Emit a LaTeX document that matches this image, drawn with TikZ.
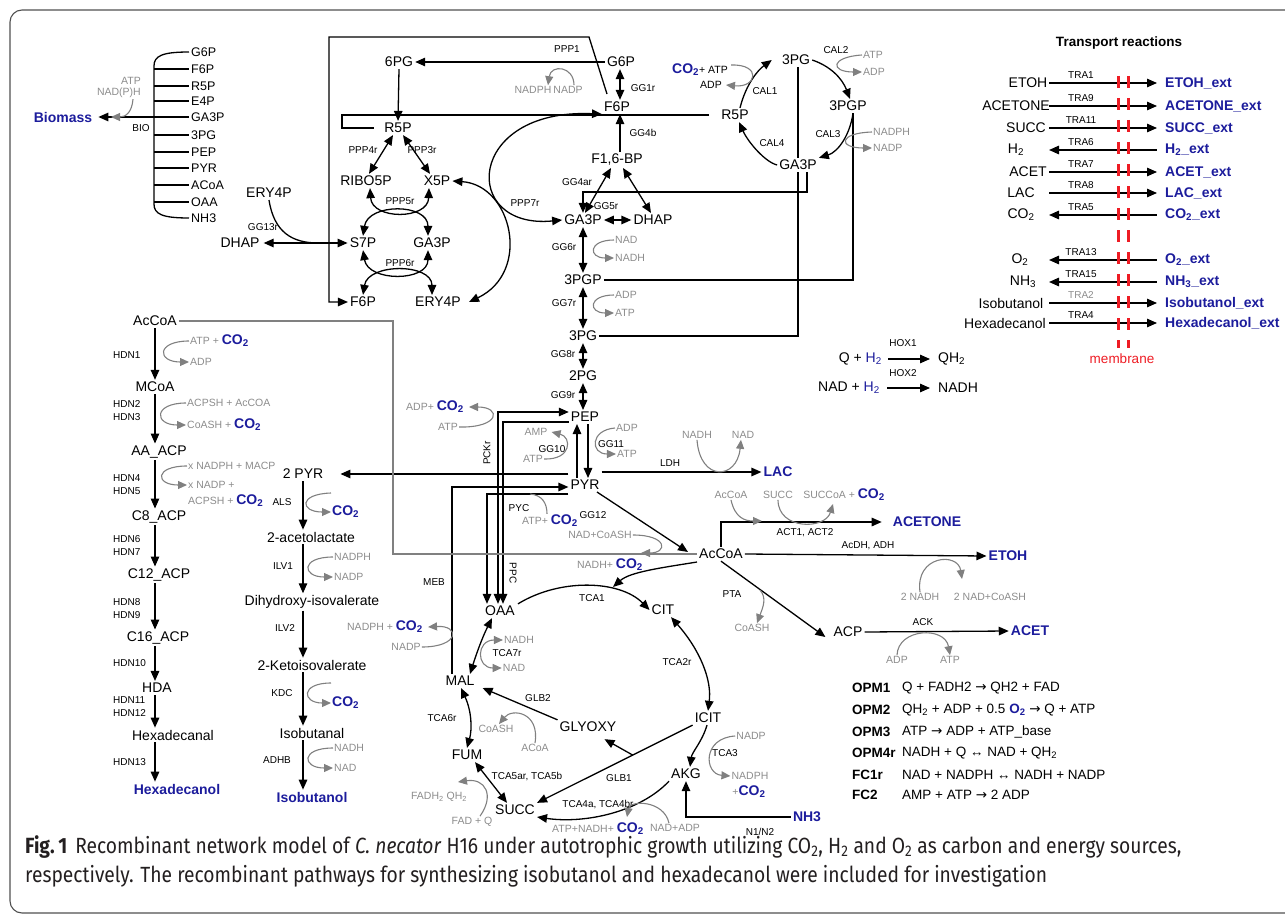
\documentclass[tikz,border=0pt]{standalone}
\usepackage{fontspec}
\setmainfont{Liberation Sans}
\newfontfamily\capfont[FakeStretch=0.875]{Fira Sans}
\newfontfamily\arrfont{DejaVu Sans}
\usetikzlibrary{arrows.meta,positioning,calc}
\definecolor{pblue}{RGB}{28,28,156}
\definecolor{cgray}{RGB}{140,140,140}
\definecolor{agray}{RGB}{128,128,128}
\definecolor{mred}{RGB}{238,28,36}
\definecolor{framegray}{RGB}{80,80,80}
\definecolor{captext}{RGB}{35,31,32}
\newcommand\cotwo{\textcolor{pblue}{\fontsize{14}{16}\selectfont\bfseries CO\textsubscript{2}}}
\newcommand\htwo{\textcolor{pblue}{H\textsubscript{2}}}
\newcommand\rarr{{\arrfont →}}

\begin{document}
\begin{tikzpicture}[x=1pt, y=-1pt,
    met/.style={font=\fontsize{14}{16}\selectfont, inner sep=2pt},
    bmet/.style={font=\fontsize{12.5}{14}\selectfont, inner sep=2pt},
    prod/.style={font=\fontsize{14}{16}\selectfont\bfseries, text=pblue, inner sep=2pt},
    rxn/.style={font=\fontsize{10}{12}\selectfont, inner sep=1pt},
    cof/.style={font=\fontsize{10.5}{12}\selectfont, text=cgray, inner sep=1pt},
    flux/.style={line width=1.3pt, -{Triangle[length=10pt, width=8.5pt]}},
    rflux/.style={line width=1.3pt, {Triangle[length=10pt, width=8.5pt]}-{Triangle[length=10pt, width=8.5pt]}},
    tout/.style={flux},
    tin/.style={line width=1.3pt, {Triangle[length=10pt, width=8.5pt]}-},
    link/.style={line width=1.3pt},
    cofarr/.style={agray, line width=1.1pt, -{Triangle[length=9pt, width=8pt]}},
    cofrev/.style={agray, line width=1.1pt, {Triangle[length=9pt, width=8pt]}-{Triangle[length=9pt, width=8pt]}},
    cofline/.style={agray, line width=1.1pt}
]
\useasboundingbox (0,0) rectangle (1285,915);
\draw[framegray, line width=1.1pt, rounded corners=12pt] (10,10) rectangle (1310,913);

% biomass drain
\foreach \n/\lbl/\y in {g6p/G6P/52, f6p/F6P/69, r5p/R5P/86, e4p/E4P/101, ga3p/GA3P/117,
                        pg/3PG/135, pep/PEP/152, pyr/PYR/168, acoa/ACoA/185, oaa/OAA/202, nh/NH3/218}
  \node[bmet, anchor=west] (b\n) at (189,\y) {\lbl};
\draw[link] (bg6p.west) .. controls (162,52) and (154,56) .. (154,66) -- (154,204)
  .. controls (154,214) and (162,218) .. (bnh.west);
\foreach \n in {f6p,r5p,e4p,pg,pep,pyr,acoa,oaa}
  \draw[link] (b\n.west -| 154,0) -- (b\n.west);
\node[prod] (bio) at (63,117) {Biomass};
\draw[flux] (bga3p.west) -- ([xshift=4pt]bio.east);
\node[cof, anchor=east] (bioa) at (142,81) {ATP};
\node[cof, anchor=east] (biob) at (142,93) {NAD(P)H};
\draw[cofarr] ([xshift=-9pt]biob.south east) .. controls (132,112) and (126,117) .. (111,117);
\node[rxn] (biol) at (141,128) {BIO};

% ERY4P / DHAP and the big loop
\node[met] (ery4pa) at (269,193) {ERY4P};
\node[met] (dhapa) at (240,243) {DHAP};
\node[rxn] (gg13) at (263,227) {GG13r};
\node[met] (s7p) at (363,243) {S7P};
\coordinate (eryjoin) at (318,243);
\draw[rflux] ([xshift=2pt]dhapa.east) -- (s7p.west);
\draw[link] (ery4pa.south) .. controls (274,232) and (292,243) .. (eryjoin);
\node[met] (f6pl) at (363,302) {F6P};
\node[met] (f6pt) at (617,107) {F6P};
\coordinate (boxend) at (607,94);
\draw[flux] (boxend) -- (589,37) -- (329,37) -- (329,0 |- f6pl.west) -- (f6pl.west);

% pentose phosphate
\node[met] (pg6) at (399,62) {6PG};
\node[met] (g6p) at (621,62) {G6P};
\node[rxn] (ppp1) at (567,49) {PPP1};
\draw[flux] (g6p.west) -- (pg6.east);
\node[cof] (ppp1a) at (533,90) {NADPH};
\node[cof] (ppp1b) at (568,90) {NADP};
\draw[cofarr] ([xshift=6pt]ppp1b.north) .. controls (574,66) and (551,64) .. ([xshift=15pt]ppp1a.north);
\node[met] (r5pl) at (398,128) {R5P};
\draw[flux] (pg6.south) -- (r5pl.north);
\node[rxn] (ppp4) at (363,150) {PPP4r};
\node[rxn] (ppp3) at (422,150) {PPP3r};
\node[met] (ribo) at (366,181) {RIBO5P};
\node[met] (x5p) at (437,181) {X5P};
\draw[rflux] ([xshift=-5pt]r5pl.south) -- ([xshift=3pt]ribo.north);
\draw[rflux] ([xshift=5pt]r5pl.south) -- ([xshift=-7pt]x5p.north);
\node[rxn] (ppp5) at (400,201) {PPP5r};
\node[met] (ga3pl) at (432,243) {GA3P};
\draw[rflux] ([xshift=4pt]ribo.south) .. controls (372,220) and (428,220) .. ([xshift=-8pt]x5p.south);
\draw[rflux] (s7p.north) .. controls (368,203) and (428,203) .. ([xshift=-4pt]ga3pl.north);
\node[rxn] (ppp6) at (400,263) {PPP6r};
\node[met] (ery4pl) at (438,302) {ERY4P};
\draw[rflux] (s7p.south) .. controls (368,282) and (428,282) .. ([xshift=-4pt]ga3pl.south);
\draw[rflux] (f6pl.north) .. controls (368,263) and (432,263) .. ([xshift=-6pt]ery4pl.north);
\node[rxn] (ppp7) at (525,203) {PPP7r};
\draw[rflux] (x5p.east) .. controls (512,185) and (532,272) .. ([xshift=6pt]ery4pl.east);
\node[met] (ga3pc) at (583,220) {GA3P};
\draw[rflux] (f6pt.south west) .. controls (465,108) and (460,230) .. (ga3pc.west);

% glycolysis
\node[rxn] (gg1) at (643,88) {GG1r};
\draw[rflux] ([xshift=-1pt]g6p.south) -- ([xshift=3pt]f6pt.north);
\node[met] (fbp) at (617,160) {F1,6-BP};
\node[rxn] (gg4b) at (643,133) {GG4b};
\draw[flux] ([xshift=3pt]fbp.north) -- ([xshift=3pt]f6pt.south);
\node[rxn] (gg4a) at (577,182) {GG4ar};
\node[rxn] (gg5) at (606,206) {GG5r};
\node[met] (dhapc) at (653,220) {DHAP};
\draw[rflux] ([xshift=-6pt]fbp.south) -- ([xshift=2pt]ga3pc.north);
\draw[rflux] ([xshift=6pt]fbp.south) -- ([xshift=-2pt]dhapc.north);
\draw[rflux] (ga3pc.east) -- (dhapc.west);
\node[rxn] (gg6) at (564,247) {GG6r};
\node[cof, anchor=west] (g6a) at (614,240) {NAD};
\node[cof, anchor=west] (g6b) at (614,258) {NADH};
\draw[cofarr] (g6a.west) .. controls (588,240) and (588,258) .. (g6b.west);
\node[met] (pgp3) at (583,280) {3PGP};
\draw[rflux] (ga3pc.south) -- (pgp3.north);
\node[rxn] (gg7) at (564,303) {GG7r};
\node[cof, anchor=west] (g7a) at (614,295) {ADP};
\node[cof, anchor=west] (g7b) at (614,313) {ATP};
\draw[cofarr] (g7a.west) .. controls (588,295) and (588,313) .. (g7b.west);
\node[met] (pg3) at (583,336) {3PG};
\draw[rflux] (pgp3.south) -- (pg3.north);
\node[rxn] (gg8) at (563,354) {GG8r};
\node[met] (pg2) at (583,376) {2PG};
\draw[rflux] (pg3.south) -- (pg2.north);
\node[rxn] (gg9) at (563,395) {GG9r};
\node[met] (pep) at (585,417) {PEP};
\draw[rflux] (pg2.south) -- (pg2.south |- pep.north);
\node[met] (pyr) at (585,485) {PYR};
\node[rxn] (gg10) at (552,449) {GG10};
\node[rxn] (gg11) at (611,444) {GG11};
\draw[flux] ([xshift=-8pt]pyr.north) -- ([xshift=-8pt]pep.south);
\draw[flux] ([xshift=3pt]pep.south) -- ([xshift=3pt]pyr.north);
\node[cof] (g10a) at (536,432) {AMP};
\node[cof] (g10b) at (533,459) {ATP};
\draw[cofarr] (g10b.east) .. controls (572,460) and (572,437) .. ([xshift=3pt]g10a.east);
\node[cof] (g11a) at (627,428) {ADP};
\node[cof] (g11b) at (627,454) {ATP};
\draw[cofarr] (g11a.west) .. controls (590,430) and (590,454) .. (g11b.west);

% Calvin cycle
\node[met] (pg3k) at (796,60) {3PG};
\node[met] (pgpk) at (848,106) {3PGP};
\node[met] (ga3pk) at (798,165) {GA3P};
\node[met] (r5pc) at (735,115) {R5P};
\draw[link] (pg3.east) -| (ga3pk.south);
\draw[link] (ga3pk.north) -- (ga3pk.north |- pg3k.south);
\draw[link] (pgp3.east) -| ([xshift=5pt]pgpk.south);
\draw[flux] ([xshift=9pt]ga3pk.south) |- (ga3pc.north |- 0,192) -- (ga3pc.north);
\draw[link] ([xshift=-10pt]r5pc.west) -- (342,0 |- r5pc.west) -- (342,0 |- r5pl.west) -- ([xshift=-8pt]r5pl.west);
\draw[flux] ([xshift=5pt]r5pc.north) .. controls (746,84) and (758,70) .. ([xshift=-8pt]pg3k.west);
\node[rxn] (cal1) at (765,91) {CAL1};
\node[inner sep=1pt, font=\fontsize{10.5}{12}\selectfont] (cal1a) at (700,70) {\cotwo+ ATP};
\node[inner sep=1pt, font=\fontsize{10.5}{12}\selectfont] (cal1b) at (711,85) {ADP};
\draw[cofarr] (731,65) .. controls (762,64) and (757,88) .. ([xshift=3pt]cal1b.east);
\draw[flux] (pg3k.east) .. controls (830,66) and (842,78) .. ([xshift=2pt]pgpk.north);
\node[rxn] (cal2) at (836,50) {CAL2};
\node[cof, anchor=west] (cal2a) at (862,55) {ATP};
\node[cof, anchor=west] (cal2b) at (862,72) {ADP};
\draw[cofarr] (cal2a.west) .. controls (830,57) and (830,72) .. (cal2b.west);
\draw[flux] ([xshift=5pt]pgpk.south) .. controls (850,135) and (838,152) .. (ga3pk.north east);
\node[rxn] (cal3) at (828,134) {CAL3};
\node[cof, anchor=west] (cal3a) at (872,132) {NADPH};
\node[cof, anchor=west] (cal3b) at (872,148) {NADP};
\draw[cofarr] (cal3a.west) .. controls (838,133) and (838,148) .. (cal3b.west);
\draw[flux] (ga3pk.west) .. controls (765,162) and (748,142) .. ([xshift=4pt]r5pc.south);
\node[rxn] (cal4) at (772,143) {CAL4};

% pyruvate node and branches
\node[met] (pyr2) at (303,474) {2 PYR};
\draw[flux] (pyr.west |- pyr2.east) -- ([xshift=15pt]pyr2.east);
\node[prod] (lac) at (778,472) {LAC};
\draw[flux] (pyr.east |- lac.west) -- (lac.west);
\node[rxn] (ldh) at (670,463) {LDH};
\node[cof] (ldha) at (697,435) {NADH};
\node[cof] (ldhb) at (743,435) {NAD};
\draw[cofarr] (ldha.south) .. controls (700,482) and (737,480) .. ([xshift=-2pt]ldhb.south);

\node[met] (oaa) at (500,611) {OAA};
\draw[rflux] ([yshift=5pt]pep.west) -| ([xshift=-2pt]oaa.north);
\draw[flux] ([yshift=-5pt]pep.west) -| ([xshift=3pt]oaa.north);
\draw[flux] ([yshift=-9pt]pyr.west) -| ([xshift=-13pt]oaa.north);
\node[met] (mal) at (460,681) {MAL};
\draw[flux] ([xshift=-8pt]mal.north) |- ([yshift=-2pt]pyr.west);
\node[rxn, rotate=90] (pckr) at (487,453) {PCKr};
\node[rxn, rotate=-90] (ppc) at (513,573) {PPC};
\node[rxn] (pyc) at (519,508) {PYC};
\node[rxn] (meb) at (434,582) {MEB};
\node[cof] (pyca) at (550,521) {ATP+ \cotwo};
\coordinate (pycj) at (530,494);
\draw[cofline] (pycj) .. controls (542,495) and (547,503) .. ([xshift=-3pt]pyca.north);
\node[cof] (pcka) at (435,407) {ADP+ \cotwo};
\node[cof] (pckb) at (448,427) {ATP};
\draw[cofarr] (pckb.east) .. controls (500,428) and (502,407) .. ([xshift=4pt]pcka.east);
\node[cof] (meba) at (385,627) {NADPH + \cotwo};
\node[cof] (mebb) at (406,647) {NADP};
\draw[cofarr] (mebb.east) .. controls (460,647) and (460,625) .. ([xshift=4pt]meba.east);

\node[met] (acoar) at (721,554) {AcCoA};
\draw[flux] ([xshift=12pt]pyr.south) -- ([xshift=-9pt,yshift=2pt]acoar.west);
\node[rxn] (gg12) at (593,515) {GG12};
\node[cof] (g12a) at (600,535) {NAD+CoASH};
\node[cof] (g12b) at (610,565) {NADH+ \cotwo};
\draw[cofarr] (g12a.east) .. controls (668,535) and (668,553) .. (641,553);
\node[met] (acoal) at (155,321) {AcCoA};
\draw[cofline] (acoal.east) -| (393,0 |- acoar.west) -- (acoar.west);

% acetone, ethanol, acetate
\node[prod] (acetone) at (927,522) {ACETONE};
\draw[flux] (acoar.north) |- ([xshift=-9pt]acetone.west);
\node[rxn] (act) at (805,533) {ACT1, ACT2};
\node[cof] (acta) at (731,495) {AcCoA};
\node[cof] (actb) at (778,495) {SUCC};
\node[cof] (actc) at (844,495) {SUCCoA + \cotwo};
\draw[cofarr] (acta.south) .. controls (735,518) and (745,521) .. (762,521);
\draw[cofarr] (actb.south) .. controls (778,530) and (825,530) .. (833,504);
\node[prod] (etoh) at (1008,556) {ETOH};
\draw[flux] (acoar.east) -- (etoh.west);
\node[rxn] (adh) at (868,546) {AcDH, ADH};
\node[cof] (etoha) at (920,597) {2 NADH};
\node[cof] (etohb) at (990,597) {2 NAD+CoASH};
\draw[cofarr] (etoha.north) .. controls (915,555) and (958,552) .. (962,579);
\node[met] (acp) at (848,632) {ACP};
\draw[flux] (acoar.south) -- ([xshift=-6pt,yshift=-5pt]acp.west);
\node[rxn] (pta) at (732,594) {PTA};
\node[cof] (ptaa) at (752,628) {CoASH};
\draw[cofarr] (760,590) .. controls (767,598) and (763,607) .. ([xshift=5pt]ptaa.north);
\node[prod] (acet) at (1030,631) {ACET};
\draw[flux] (acp.east) -- (acet.west);
\node[rxn] (ack) at (923,622) {ACK};
\node[cof] (acka) at (897,660) {ADP};
\node[cof] (ackb) at (950,660) {ATP};
\draw[cofarr] (acka.north) .. controls (898,628) and (945,626) .. (ackb.north);

% TCA cycle and glyoxylate shunt
\coordinate (tcaj) at (613,587);
\draw[flux] ([yshift=-8pt]acoar.west) .. controls (660,568) and (630,572) .. (tcaj);
\node[met] (cit) at (663,610) {CIT};
\draw[flux] ([xshift=18pt]oaa.north) .. controls (560,578) and (620,580) .. (cit.west);
\node[rxn] (tca1) at (592,598) {TCA1};
\node[met] (icit) at (708,718) {ICIT};
\draw[rflux] ([xshift=8pt]cit.south) .. controls (700,650) and (712,680) .. (icit.north);
\node[rxn] (tca2) at (677,662) {TCA2r};
\node[met] (akg) at (686,774) {AKG};
\draw[flux] ([xshift=-1pt]icit.south) .. controls (702,742) and (692,752) .. ([xshift=4pt]akg.north);
\node[rxn] (tca3) at (725,753) {TCA3};
\node[cof] (t3a) at (751,736) {NADP};
\node[cof] (t3b) at (750,776) {NADPH};
\node[cof] (t3c) at (749,792) {+\cotwo};
\draw[cofarr] (t3a.west) .. controls (702,738) and (704,774) .. (t3b.west);
\node[met] (succ) at (515,810) {SUCC};
\node[met] (glyoxy) at (588,727) {GLYOXY};
\draw[flux] (icit.south west) -- (succ.north east);
\draw[flux] ($(icit.south west)!0.385!(succ.north east)$) -- ([xshift=-14pt,yshift=-5pt]glyoxy.south east);
\node[rxn] (glb1) at (619,778) {GLB1};
\node[met] (fum) at (467,755) {FUM};
\draw[flux] (glyoxy.north west) -- ([xshift=6pt,yshift=-7pt]mal.east);
\node[rxn] (glb2) at (538,698) {GLB2};
\node[cof] (gl2a) at (535,748) {ACoA};
\node[cof] (gl2b) at (496,729) {CoASH};
\draw[cofarr] (gl2a.north) .. controls (540,712) and (512,708) .. ([xshift=3pt]gl2b.north);
\draw[rflux] ([xshift=10pt]mal.north) .. controls (476,655) and (482,638) .. ([xshift=-8pt]oaa.south);
\node[rxn] (tca7) at (507,653) {TCA7r};
\node[cof] (t7a) at (519,640) {NADH};
\node[cof] (t7b) at (514,668) {NAD};
\draw[cofrev] (t7a.west) .. controls (476,640) and (476,668) .. (t7b.west);
\draw[rflux] ([xshift=1pt]mal.south) .. controls (472,712) and (472,730) .. (fum.north);
\node[rxn] (tca6) at (442,718) {TCA6r};
\draw[rflux] ([xshift=8pt]fum.south) -- ([xshift=-8pt]succ.north);
\node[rxn] (tca5) at (527,777) {TCA5ar, TCA5b};
\node[cof] (t5a) at (439,797) {FADH\textsubscript{2} QH\textsubscript{2}};
\node[cof] (t5b) at (472,822) {FAD + Q};
\draw[cofarr] ([xshift=8pt]t5b.north) .. controls (495,795) and (485,778) .. (458,782);
\draw[flux] (akg.south west) .. controls (640,812) and (585,824) .. ([yshift=-7pt]succ.east);
\node[rxn] (tca4) at (598,805) {TCA4a, TCA4br};
\node[cof] (t4a) at (598,829) {ATP+NADH+ \cotwo};
\node[cof] (t4b) at (675,828) {NAD+ADP};
\draw[cofarr] ([xshift=-6pt]t4b.north) .. controls (664,800) and (630,800) .. (627,817);
\node[prod] (nh3) at (807,817) {NH3};
\draw[flux] (nh3.west) -| (akg.south);
\node[rxn] (n12) at (760,832) {N1/N2};

% hexadecanol pathway
\node[met] (mcoa) at (155,387) {MCoA};
\node[met] (aaacp) at (159,452) {AA\_ACP};
\node[met] (c8acp) at (159,517) {C8\_ACP};
\node[met] (c12acp) at (159,575) {C12\_ACP};
\node[met] (c16acp) at (158,638) {C16\_ACP};
\node[met] (hda) at (157,688) {HDA};
\node[met] (hexal) at (173,735) {Hexadecanal};
\node[prod] (hexol) at (177,789) {Hexadecanol};
\coordinate (hx) at (155,0);
\draw[flux] (acoal.south -| hx) -- (mcoa.north -| hx);
\draw[flux] (mcoa.south -| hx) -- (aaacp.north -| hx);
\draw[flux] (aaacp.south -| hx) -- (c8acp.north -| hx);
\draw[flux] (c8acp.south -| hx) -- (c12acp.north -| hx);
\draw[flux] (c12acp.south -| hx) -- (c16acp.north -| hx);
\draw[flux] (c16acp.south -| hx) -- (hda.north -| hx);
\draw[flux] (hda.south -| hx) -- (hexal.north -| hx);
\draw[flux] (hexal.south -| hx) -- (hexol.north -| hx);
\foreach \lbl/\y in {HDN1/355, HDN2/404, HDN3/417, HDN4/478, HDN5/491, HDN6/539, HDN7/552,
                     HDN8/602, HDN9/615, HDN10/663, HDN11/700, HDN12/713, HDN13/762}
  \node[rxn, anchor=west] (l\lbl) at (112,\y) {\lbl};
\node[cof, anchor=west] (h1a) at (189,341) {ATP + \cotwo};
\node[cof, anchor=west] (h1b) at (189,362) {ADP};
\draw[cofarr] (h1a.west) .. controls (156,341) and (157,362) .. (h1b.west);
\node[cof, anchor=west] (h2a) at (186,403) {ACPSH + AcCOA};
\node[cof, anchor=west] (h2b) at (186,425) {CoASH + \cotwo};
\draw[cofarr] (h2a.west) .. controls (153,403) and (154,425) .. (h2b.west);
\node[cof, anchor=west] (h4a) at (187,466) {x NADPH + MACP};
\node[cof, anchor=west] (h4b) at (187,485) {x NADP +};
\node[cof, anchor=west] (h4c) at (187,501) {ACPSH + \cotwo};
\draw[cofarr] (h4a.west) .. controls (154,466) and (155,485) .. (h4b.west);

% isobutanol pathway
\node[met] (acetol) at (311,537) {2-acetolactate};
\node[met] (dihyd) at (312,602) {Dihydroxy-isovalerate};
\node[met] (keto) at (312,665) {2-Ketoisovalerate};
\node[met] (isoal) at (312,733) {Isobutanal};
\node[prod] (isool) at (312,797) {Isobutanol};
\coordinate (ib) at (303,0);
\draw[flux] (pyr2.south -| ib) -- (acetol.north -| ib);
\draw[flux] (acetol.south -| ib) -- (dihyd.north -| ib);
\draw[flux] (dihyd.south -| ib) -- (keto.north -| ib);
\draw[flux] (keto.south -| ib) -- (isoal.north -| ib);
\draw[flux] (isoal.south -| ib) -- (isool.north -| ib);
\node[rxn] (als) at (282,502) {ALS};
\node[rxn] (ilv1) at (283,566) {ILV1};
\node[rxn] (ilv2) at (285,628) {ILV2};
\node[rxn] (kdc) at (282,693) {KDC};
\node[rxn] (adhb) at (277,760) {ADHB};
\node[anchor=west, inner sep=1pt] (alsco) at (331,512) {\cotwo};
\draw[cofarr] (331,493) .. controls (298,494) and (300,512) .. (alsco.west);
\node[cof, anchor=west] (ilva) at (333,557) {NADPH};
\node[cof, anchor=west] (ilvb) at (333,577) {NADP};
\draw[cofarr] (ilva.west) .. controls (300,557) and (302,577) .. (ilvb.west);
\node[anchor=west, inner sep=1pt] (kdcco) at (331,703) {\cotwo};
\draw[cofarr] (331,683) .. controls (300,683) and (302,703) .. (kdcco.west);
\node[cof, anchor=west] (adha) at (333,748) {NADH};
\node[cof, anchor=west] (adhc) at (333,768) {NAD};
\draw[cofarr] (adha.west) .. controls (300,748) and (302,768) .. (adhc.west);

% transport reactions
\node[font=\fontsize{13.5}{15}\selectfont\bfseries] (trtitle) at (1119,43) {Transport reactions};
\coordinate (mL) at (1049,0);
\coordinate (mR) at (1157,0);
\foreach \i/\y/\lx/\lbl/\tra/\tc/\ext/\dir in {
  1/83/1028/ETOH/TRA1/black/ETOH\_ext/tout,
  2/106/1016/ACETONE/TRA9/black/ACETONE\_ext/tout,
  3/128/1026/SUCC/TRA11/black/SUCC\_ext/tout,
  4/150/1016/H\textsubscript{2}/TRA6/black/H\textsubscript{2}\_ext/tin,
  5/172/1028/ACET/TRA7/black/ACET\_ext/tout,
  6/193/1021/LAC/TRA8/black/LAC\_ext/tout,
  7/215/1021/CO\textsubscript{2}/TRA5/black/CO\textsubscript{2}\_ext/tin,
  8/260/1020/O\textsubscript{2}/TRA13/black/O\textsubscript{2}\_ext/tin,
  9/282/1023/NH\textsubscript{3}/TRA15/black/NH\textsubscript{3}\_ext/tin,
  10/303/1011/Isobutanol/TRA2/cgray/Isobutanol\_ext/tout,
  11/323/1005/Hexadecanol/TRA4/black/Hexadecanol\_ext/tout}{
  \node[met] (tl\i) at (\lx,\y) {\lbl};
  \node[prod, anchor=west] (tr\i) at (1163,\y) {\ext};
  \draw[\dir] (tl\i.east -| mL) -- (tr\i.west -| mR);
  \node[rxn, text=\tc] (tt\i) at (1081,\y-8) {\tra};
}
\foreach \mx in {1118,1128}
  \draw[mred, line width=3pt, dash pattern=on 12pt off 10pt] (\mx,76) -- (\mx,348);
\node[font=\fontsize{13.5}{15}\selectfont, text=mred] (memb) at (1122,359) {membrane};

% hydrogenases
\node[met, anchor=east] (hoxa) at (884,359) {Q + \htwo};
\node[met, anchor=west] (hoxb) at (936,359) {QH\textsubscript{2}};
\draw[flux] ([xshift=4pt]hoxa.east) -- ([xshift=-6pt]hoxb.west);
\node[rxn] (hox1) at (903,343) {HOX1};
\node[met, anchor=east] (hoxc) at (882,388) {NAD + \htwo};
\node[met, anchor=west] (hoxd) at (936,388) {NADH};
\draw[flux] ([xshift=5pt]hoxc.east) -- ([xshift=-6pt]hoxd.west);
\node[rxn] (hox2) at (903,373) {HOX2};

% energy reactions
\foreach \i/\y/\nm/\eq in {1/688/OPM1/{Q + FADH2 \rarr{} QH2 + FAD},
    2/710/OPM2/{QH\textsubscript{2} + ADP + 0.5 \textcolor{pblue}{\bfseries O\textsubscript{2}} \rarr{} Q + ATP},
    3/732/OPM3/{ATP \rarr{} ADP + ATP\_base},
    4/753/OPM4r/{NADH + Q ↔ NAD + QH\textsubscript{2}},
    5/775/FC1r/{NAD + NADPH ↔ NADH + NADP},
    6/795/FC2/{AMP + ATP \rarr{} 2 ADP}}{
  \node[font=\fontsize{13.5}{15}\selectfont\bfseries, anchor=west, inner sep=1pt] (opn\i) at (851,\y) {\nm};
  \node[font=\fontsize{13.5}{15}\selectfont, anchor=west, inner sep=1pt] (ope\i) at (901,\y) {\eq};
}

% caption
\node[anchor=base west, inner sep=0pt, text=captext, font=\capfont\fontsize{22}{26}\selectfont] (cap1) at (25,853)
  {\textbf{Fig.\,1}\hspace{8pt}Recombinant network model of \textit{C. necator} H16 under autotrophic growth utilizing CO\textsubscript{2}, H\textsubscript{2} and O\textsubscript{2} as carbon and energy sources,};
\node[anchor=base west, inner sep=0pt, text=captext, font=\capfont\fontsize{22}{26}\selectfont] (cap2) at (25,882)
  {respectively. The recombinant pathways for synthesizing isobutanol and hexadecanol were included for investigation};
\end{tikzpicture}
\end{document}
